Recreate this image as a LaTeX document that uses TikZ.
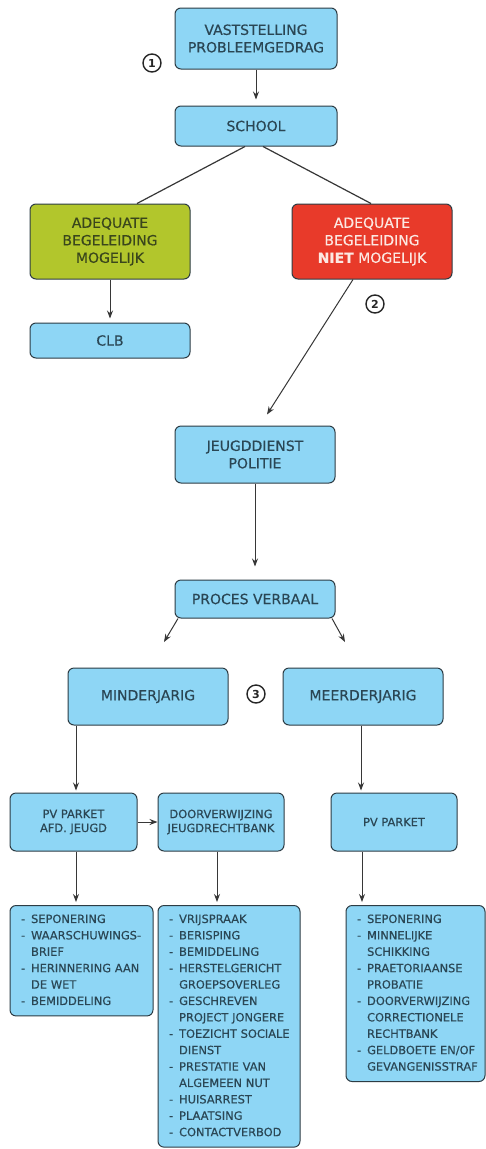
\documentclass[tikz,border=0pt]{standalone}
\usepackage{fontspec}
\setmainfont{DejaVu Sans}
\newfontfamily\semib{DejaVu Sans}[FakeBold=0.45]
\usetikzlibrary{arrows.meta}
\definecolor{boxblue}{RGB}{142,214,245}
\definecolor{edgecol}{RGB}{45,60,68}
\definecolor{txtcol}{RGB}{42,70,84}
\definecolor{grnfill}{RGB}{178,198,44}
\definecolor{grntxt}{RGB}{58,70,28}
\definecolor{redfill}{RGB}{232,58,42}
\definecolor{redtxt}{RGB}{252,232,226}
\definecolor{conncol}{RGB}{55,55,55}
\newcommand{\fsbig}{\semib\fontsize{14pt}{17.5pt}\selectfont}
\newcommand{\fssmall}{\semib\fontsize{11.4pt}{14pt}\selectfont}
\newcommand{\fslist}{\semib\fontsize{11.4pt}{16.4pt}\selectfont}
\begin{document}
\begin{tikzpicture}[x=1pt,y=-1pt,
  box/.style={draw=edgecol, line width=1pt, rounded corners=6pt, fill=boxblue,
    text=txtcol, align=center, font=\fsbig, inner sep=0pt},
  sbox/.style={box, font=\fssmall, minimum width=126pt, minimum height=58pt},
  lbox/.style={draw=edgecol, line width=1pt, rounded corners=6pt, fill=boxblue,
    text=txtcol, font=\fslist, anchor=north, inner xsep=11pt, inner ysep=6pt, align=left},
  numc/.style={circle, draw=black!85, line width=1.4pt, minimum size=18pt, inner sep=0pt,
    font=\bfseries\fontsize{11pt}{11pt}\selectfont, text=black!85},
  ln/.style={draw=conncol, line width=1.2pt},
  arr/.style={draw=conncol, line width=1pt, -{Stealth[length=8pt,width=6pt]}}
]
\useasboundingbox[fill=white] (0,0) rectangle (486,1149);

% top
\node[box, minimum width=162pt, minimum height=61pt] (vast) at (256,38.5) {VASTSTELLING\\PROBLEEMGEDRAG};
\node[box, minimum width=162pt, minimum height=40pt] (school) at (256,126) {SCHOOL};
\node[numc] (n1) at (152,63) {1};

\node[box, fill=grnfill, text=grntxt, minimum width=160pt, minimum height=75pt] (grn) at (110,241.5) {ADEQUATE\\BEGELEIDING\\MOGELIJK};
\node[box, fill=redfill, text=redtxt, minimum width=160pt, minimum height=75pt] (red) at (372,241.5) {ADEQUATE\\BEGELEIDING\\\textbf{NIET} MOGELIJK};
\node[box, minimum width=160pt, minimum height=35pt] (clb) at (110,340.5) {CLB};
\node[numc] (n2) at (375,304) {2};

\node[box, minimum width=160pt, minimum height=57pt] (jeugd) at (255,454.5) {JEUGDDIENST\\POLITIE};
\node[box, minimum width=160pt, minimum height=38pt] (pv) at (255,599) {PROCES VERBAAL};
\coordinate (pvl) at (164,642);
\coordinate (pvr) at (345,642);

\node[box, minimum width=160pt, minimum height=57pt] (minder) at (148,696.5) {MINDERJARIG};
\node[box, minimum width=160pt, minimum height=57pt] (meer) at (363,696.5) {MEERDERJARIG};
\node[numc] (n3) at (256,694) {3};

\node[sbox, minimum width=127pt] (pvafd) at (73.5,822) {PV PARKET\\AFD. JEUGD};
\node[sbox] (doorv) at (221,822) {DOORVERWIJZING\\JEUGDRECHTBANK};
\node[sbox] (pvpark) at (394,822) {PV PARKET};

\node[lbox, text width=121pt] (list1) at (81.5,905) {%
\begin{tabular}{@{}l@{\hspace{6pt}}l@{}}
- & SEPONERING\\
- & WAARSCHUWINGS-\\
  & BRIEF\\
- & HERINNERING AAN\\
  & DE WET\\
- & BEMIDDELING
\end{tabular}};

\node[lbox, text width=120pt] (list2) at (229,905) {%
\begin{tabular}{@{}l@{\hspace{6pt}}l@{}}
- & VRIJSPRAAK\\
- & BERISPING\\
- & BEMIDDELING\\
- & HERSTELGERICHT\\
  & GROEPSOVERLEG\\
- & GESCHREVEN\\
  & PROJECT JONGERE\\
- & TOEZICHT SOCIALE\\
  & DIENST\\
- & PRESTATIE VAN\\
  & ALGEMEEN NUT\\
- & HUISARREST\\
- & PLAATSING\\
- & CONTACTVERBOD
\end{tabular}};

\node[lbox, text width=117pt] (list3) at (415.5,905) {%
\begin{tabular}{@{}l@{\hspace{6pt}}l@{}}
- & SEPONERING\\
- & MINNELIJKE\\
  & SCHIKKING\\
- & PRAETORIAANSE\\
  & PROBATIE\\
- & DOORVERWIJZING\\
  & CORRECTIONELE\\
  & RECHTBANK\\
- & GELDBOETE EN/OF\\
  & GEVANGENISSTRAF
\end{tabular}};

% connectors
\draw[arr, shorten >=6pt] (vast) -- (school);
\draw[ln] ([xshift=-11pt]school.south) -- ([xshift=27pt]grn.north);
\draw[ln] ([xshift=7pt]school.south) -- ([xshift=-1pt]red.north);
\draw[arr, shorten >=4pt] (grn) -- (clb);
\draw[arr] ([xshift=-19pt]red.south) -- ([xshift=12pt,yshift=11pt]jeugd.north);
\draw[arr, shorten >=13pt] (jeugd) -- (pv);
\draw[arr] ([xshift=-77pt]pv.south) -- (pvl);
\draw[arr] ([xshift=77pt]pv.south) -- (pvr);
\draw[arr, shorten >=2pt] ([xshift=-72pt]minder.south) -- ([xshift=2.5pt]pvafd.north);
\draw[arr, shorten >=2pt] ([xshift=-2pt]meer.south) -- ([xshift=-33pt]pvpark.north);
\draw[arr] (pvafd.east) -- (doorv.west);
\draw[arr, shorten >=3pt] ([xshift=2.5pt]pvafd.south) -- ([xshift=-5.5pt]list1.north);
\draw[arr, shorten >=3pt] ([xshift=-4pt]doorv.south) -- ([xshift=-12pt]list2.north);
\draw[arr, shorten >=3pt] ([xshift=-32pt]pvpark.south) -- ([xshift=-53.5pt]list3.north);
\end{tikzpicture}
\end{document}
